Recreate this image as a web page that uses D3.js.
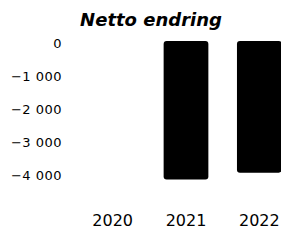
<!DOCTYPE html>
<html>
<head>
<meta charset="utf-8">
<script src="https://cdn.jsdelivr.net/npm/d3@7"></script>
<style>
  body { margin: 0; background: #fff; }
  svg { display: block; font-family: "DejaVu Sans", sans-serif; }
</style>
</head>
<body>
<svg id="chart" width="281" height="240"></svg>
<script>
// data
var years = ["2020", "2021", "2022"];
var values = [0, -4200, -3990];
var yTicks = [0, -1000, -2000, -3000, -4000];
var title = "Netto endring";

var svg = d3.select("#chart");

var nb = d3.formatLocale({
  decimal: ",",
  thousands: "\u00a0",
  grouping: [3],
  currency: ["", ""],
  minus: "\u2212"
});
var fmt = nb.format(",d");

var x = d3.scaleBand()
  .domain(years)
  .range([76, 296])
  .paddingInner(0.39)
  .paddingOuter(0.195);

var y = d3.scaleLinear()
  .domain([-4500, 0])
  .range([189.5, 41]);

//title
svg.append("text")
  .attr("x", 151)
  .attr("y", 26)
  .attr("text-anchor", "middle")
  .style("font-size", "18px")
  .style("font-weight", "bold")
  .style("font-style", "italic")
  .text(title);

//y axis (labels only)
var yAxis = svg.append("g")
  .attr("transform", "translate(62,2.5)")
  .call(d3.axisLeft(y).tickValues(yTicks).tickFormat(fmt).tickSize(0).tickPadding(0));
yAxis.select(".domain").remove();
yAxis.selectAll("text")
  .style("font-size", "13px")
  .style("letter-spacing", "0.5px")
  .attr("fill", "#000")
  .style("font-family", "DejaVu Sans");

//x axis (labels only)
var xAxis = svg.append("g")
  .attr("transform", "translate(0,215)")
  .call(d3.axisBottom(x).tickSize(0).tickPadding(0));
xAxis.select(".domain").remove();
xAxis.selectAll("text")
  .style("font-size", "16px")
  .attr("fill", "#000")
  .style("font-family", "DejaVu Sans");

//bars
svg.append("g")
  .selectAll("rect")
  .data(years.map(function (d, i) { return { year: d, value: values[i] }; }))
  .enter()
  .append("rect")
  .attr("x", function (d) { return x(d.year); })
  .attr("y", function (d) { return y(Math.max(0, d.value)); })
  .attr("width", x.bandwidth())
  .attr("height", function (d) { return Math.abs(y(d.value) - y(0)); })
  .attr("rx", function (d) { return d.value === 0 ? 0 : 3; })
  .attr("fill", "#000");
</script>
</body>
</html>
